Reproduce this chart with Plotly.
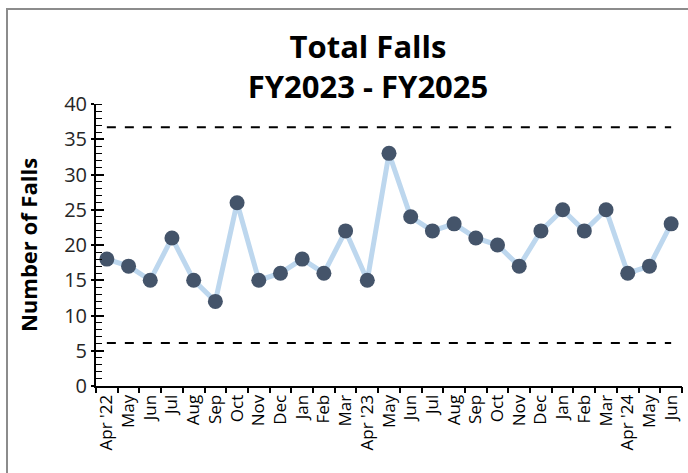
"""Total falls run chart, FY2023 - FY2025."""

import plotly.graph_objects as go

months = [
    "Apr '22", "May", "Jun", "Jul", "Aug", "Sep", "Oct", "Nov", "Dec", "Jan", "Feb", "Mar",
    "Apr '23", "May", "Jun", "Jul", "Aug", "Sep", "Oct", "Nov", "Dec", "Jan", "Feb", "Mar",
    "Apr '24", "May", "Jun",
]
falls = [
    18, 17, 15, 21, 15, 12, 26, 15, 16, 18, 16, 22,
    15, 33, 24, 22, 23, 21, 20, 17, 22, 25, 22, 25,
    16, 17, 23,
]
upper_limit = [36.7] * len(months)
lower_limit = [6.1] * len(months)

FONT = "Open Sans"
LINE_BLUE = "#BDD7EE"
MARKER_NAVY = "#44546A"

# use index positions so repeated month names stay separate categories
xs = list(range(len(months)))

fig = go.Figure()
for limit in (upper_limit, lower_limit):
    fig.add_trace(
        go.Scatter(
            x=xs,
            y=limit,
            mode="lines",
            line={"color": "black", "width": 2, "dash": "dash"},
            hoverinfo="skip",
            showlegend=False,
            yaxis="y2",
        )
    )
fig.add_trace(
    go.Scatter(
        x=xs,
        y=falls,
        mode="lines+markers",
        line={"color": LINE_BLUE, "width": 5},
        marker={"color": MARKER_NAVY, "size": 15},
        name="Total Falls",
        showlegend=False,
    )
)
# invisible point so the tick-only x axis gets drawn
fig.add_trace(
    go.Scatter(x=[xs[0]], y=[falls[0]], xaxis="x2", mode="markers",
               marker={"opacity": 0}, hoverinfo="skip", showlegend=False)
)

fig.update_layout(
    width=688,
    height=473,
    paper_bgcolor="white",
    plot_bgcolor="white",
    font={"family": FONT, "color": "#262626"},
    margin=dict(l=96, r=6, t=104, b=87, autoexpand=False),
    title={
        "text": "<b>Total Falls<br>FY2023 - FY2025</b>",
        "font": {"family": FONT, "size": 31, "color": "black"},
        "x": 368 / 688,
        "xanchor": "center",
        "y": 1 - 58 / 473,
        "yanchor": "middle",
        "xref": "container",
        "yref": "container",
    },
    xaxis={
        "range": [-0.5, len(months) - 0.5],
        "tickmode": "array",
        "tickvals": xs,
        "ticktext": months,
        "tickangle": -90,
        "tickfont": {"size": 17, "color": "black"},
        "showgrid": False,
        "zeroline": False,
        "showline": True,
        "linecolor": "black",
        "linewidth": 2,
        "ticks": "",
    },
    # second x axis only supplies tick marks between categories
    xaxis2={
        "overlaying": "x",
        "range": [-0.5, len(months) - 0.5],
        "tickmode": "linear",
        "tick0": -0.5,
        "dtick": 1,
        "ticks": "outside",
        "ticklen": 6,
        "tickwidth": 2,
        "tickcolor": "black",
        "showticklabels": False,
        "showgrid": False,
        "zeroline": False,
        "side": "bottom",
    },
    yaxis={
        "range": [0, 40],
        "dtick": 5,
        "title": {
            "text": "<b>Number of Falls</b>",
            "font": {"size": 22, "color": "black"},
            "standoff": 20,
        },
        "tickfont": {"size": 20, "color": "#262626"},
        "ticks": "outside",
        "ticklen": 3,
        "tickwidth": 2,
        "tickcolor": "black",
        "minor": {"dtick": 1, "ticks": "inside", "ticklen": 6, "tickcolor": "black", "tickwidth": 1},
        "showgrid": False,
        "zeroline": False,
        "showline": True,
        "linecolor": "black",
        "linewidth": 2,
    },
    yaxis2={
        "overlaying": "y",
        "range": [0, 40],
        "dtick": 5,
        "ticks": "inside",
        "ticklen": 8,
        "tickwidth": 2,
        "tickcolor": "black",
        "showticklabels": False,
        "showgrid": False,
        "zeroline": False,
        "side": "left",
    },
    shapes=[
        dict(
            type="rect",
            xref="paper",
            yref="paper",
            x0=(7 - 96) / 586,
            x1=1.2,
            y0=-0.6,
            y1=(386 - 9) / 282,
            line={"color": "#8C8C8C", "width": 2},
            fillcolor="rgba(0,0,0,0)",
            layer="below",
        )
    ],
)

# drop the default body margin so the figure sits at the window corner
fig.write_html(
    "out.html",
    config={"displayModeBar": False},
    post_script="document.body.style.margin='0';",
)
